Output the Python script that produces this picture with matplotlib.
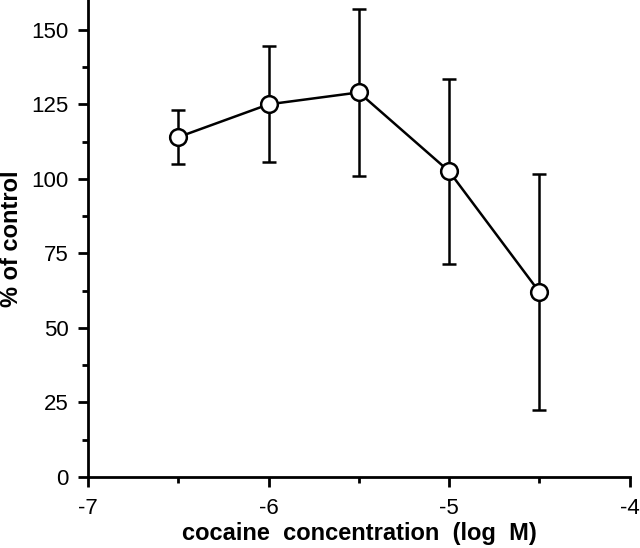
import matplotlib
matplotlib.use("Agg")
import matplotlib.pyplot as plt
from matplotlib.ticker import MultipleLocator

# data
log_conc = [-6.5, -6.0, -5.5, -5.0, -4.5]
pct_control = [114, 125, 129, 102.5, 62]
err = [9, 19.5, 28, 31, 39.5]

plt.rcParams['font.family'] = ['Liberation Sans', 'DejaVu Sans']
plt.rcParams['axes.unicode_minus'] = False

fig = plt.figure(figsize=(6.4, 5.48), dpi=100)
ax = fig.add_axes([0.1375, 0.1296, 0.8465, 0.8704])

ax.errorbar(log_conc, pct_control, yerr=err, color='black', linewidth=1.8,
            elinewidth=1.8, capsize=5, capthick=2.2,
            marker='o', markersize=12, markerfacecolor='white',
            markeredgecolor='black', markeredgewidth=1.8, zorder=3)

ax.set_xlim(-7, -4)
ax.set_ylim(0, 160)
ax.xaxis.set_major_locator(MultipleLocator(1))
ax.xaxis.set_minor_locator(MultipleLocator(0.5))
ax.yaxis.set_major_locator(MultipleLocator(25))
ax.yaxis.set_minor_locator(MultipleLocator(12.5))

for s in ['top', 'right']:
    ax.spines[s].set_visible(False)
for s in ['left', 'bottom']:
    ax.spines[s].set_linewidth(2)

ax.tick_params(which='major', direction='out', length=7, width=2, labelsize=16)
ax.tick_params(which='minor', direction='out', length=4, width=2)
ax.tick_params(axis='x', which='major', pad=8)
ax.tick_params(axis='y', which='major', pad=7)

ax.set_xlabel('cocaine  concentration  (log  M)', fontsize=17, fontweight='bold', labelpad=2)
ax.set_ylabel('% of control', fontsize=17, fontweight='bold', labelpad=6)

fig.savefig('out.png', dpi=100)
